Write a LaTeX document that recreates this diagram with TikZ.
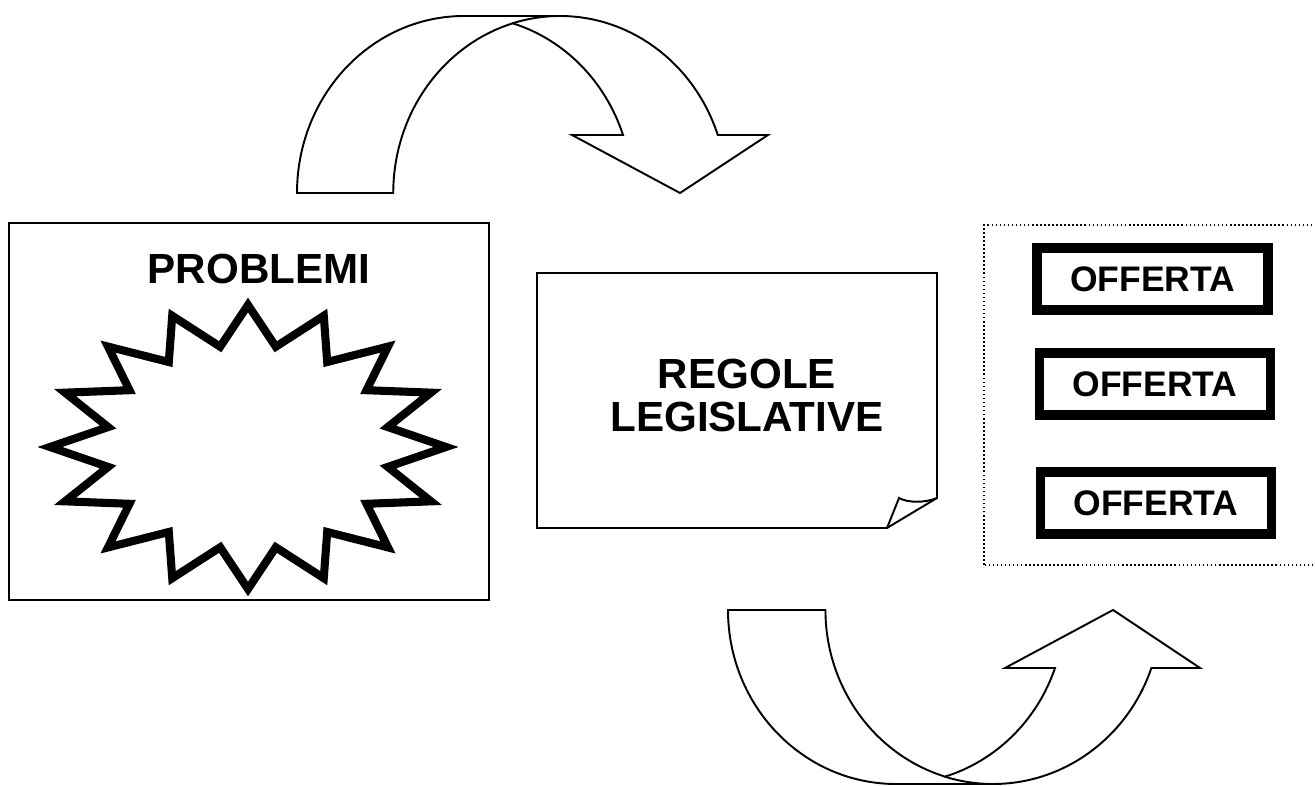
\documentclass[tikz,border=0pt]{standalone}
\usepackage{fontspec}
\setmainfont{Liberation Sans}
\usetikzlibrary{calc}
\begin{document}
\begin{tikzpicture}[x=0.02cm,y=0.02cm,
    bigtext/.style={font=\bfseries\fontsize{24}{24}\selectfont, align=center, inner sep=0pt},
    offerbox/.style={draw, line width=5.6pt, minimum width=4.62cm, minimum height=1.24cm,
      inner sep=0pt, font=\bfseries\fontsize{20.2}{22}\selectfont},
    bendarrow/.style={draw, line width=1.1pt, fill=white, line join=miter},
    burst/.style={draw, line width=4.6pt, line join=miter}]
\useasboundingbox (0,0) rectangle (1315,785);
\clip (0,0) rectangle (1315,785);
% problems
\node[draw, line width=1.1pt, minimum width=9.6cm, minimum height=7.54cm] (probbox) at (249,373.5) {};
\node[bigtext] (problemi) at (259,516.5) {PROBLEMI};
\coordinate (burstc) at (248,338);
\draw[burst] ($(burstc)+(0,142)$)
  \foreach \i [evaluate=\i as \r using {mod(\i,2)==0 ? 1 : 0.72}] in {1,...,31}{
    -- ($(burstc)+({198*\r*cos(90+\i*11.25)},{142*\r*sin(90+\i*11.25)})$)} -- cycle;
% rules
\draw[line width=1.1pt] (537,257) -- (887,257) -- (937,287) -- (937,512) -- (537,512) -- cycle;
\draw[line width=1.1pt] (887,257) -- (899,287) .. controls (908,282) and (925,282) .. (937,287);
\node[bigtext] (regole) at (747,389.5) {REGOLE\\LEGISLATIVE};
% offers
\draw[line width=0.9pt, dash pattern=on 0.9pt off 1.4pt] (984,220) rectangle (1330,560);
\node[offerbox] (offer1) at (1152.5,506) {OFFERTA};
\node[offerbox] (offer2) at (1155,401) {OFFERTA};
\node[offerbox] (offer3) at (1156,282) {OFFERTA};
% top arrow
\draw[bendarrow] (393,592) -- (297,592) arc[start angle=180, end angle=90, x radius=167, y radius=177]
  -- (560,769) arc[start angle=90, end angle=19.13, x radius=167, y radius=177]
  -- (768,650) -- (680,592) -- (572,650) -- (623,650)
  arc[start angle=19.13, end angle=73.47, x radius=167, y radius=177]
  arc[start angle=106.53, end angle=180, x radius=167, y radius=177] -- cycle;
\draw[line width=1.1pt] (560,769) arc[start angle=90, end angle=106.53, x radius=167, y radius=177];
% bottom arrow
\draw[bendarrow] (825,175) -- (728,175) arc[start angle=180, end angle=270, x radius=168, y radius=174]
  -- (993,1) arc[start angle=270, end angle=340.53, x radius=168, y radius=174]
  -- (1200,117) -- (1113,175) -- (1005,117) -- (1055,117)
  arc[start angle=340.53, end angle=286.75, x radius=168, y radius=174]
  arc[start angle=253.25, end angle=180, x radius=168, y radius=174] -- cycle;
\draw[line width=1.1pt] (993,1) arc[start angle=270, end angle=253.25, x radius=168, y radius=174];
\end{tikzpicture}
\end{document}
